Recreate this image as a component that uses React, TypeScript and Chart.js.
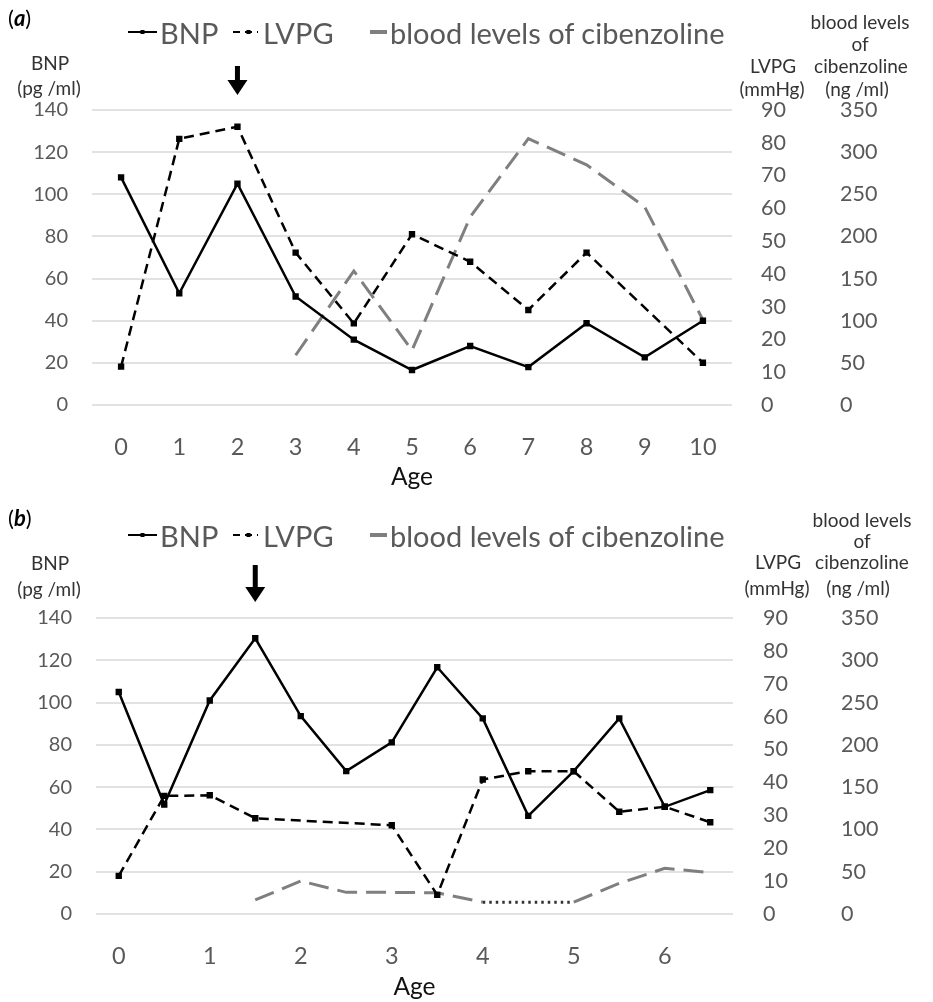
import React, { useEffect, useRef } from "react";
import { Chart, registerables } from "chart.js";
Chart.register(...registerables);

// ---------- Panel (a) data ----------
const agesA = ["0", "1", "2", "3", "4", "5", "6", "7", "8", "9", "10"];
const bnpA = [108, 53, 105, 51.5, 31, 16.6, 28, 18, 38.8, 22.6, 40];
const lvpgA = [11.7, 81.2, 84.9, 46.5, 24.9, 52.1, 43.7, 29, 46.5, null, 12.9];
const cibA = [null, null, null, 59, 159, 65, 223, 316, 285, 235, 101];
const arrowAgeA = "2";

// ---------- Panel (b) data ----------
const agesB = ["0", "0.5", "1", "1.5", "2", "2.5", "3", "3.5", "4", "4.5", "5", "5.5", "6", "6.5"];
const bnpB = [105, 51.8, 101, 130.4, 93.6, 67.6, 81.2, 116.7, 92.5, 46.4, 67.6, 92.5, 50.7, 58.6];
const lvpgB = [11.6, 35.9, 36.1, 29.1, null, null, 27, 5.8, 40.9, 43.4, 43.4, 31.1, 32.6, 27.9];
const cibB = [null, null, null, 16.6, 39, 25.6, 25.6, 25, 14, null, 14, 36.3, 54, 48.9];
const arrowAgeB = "1.5";

// ---------- axis ranges ----------
const bnpRange = [0, 140, 20];
const lvpgRange = [0, 90, 10];
const cibRange = [0, 350, 50];

const seriesNames = ["BNP", "LVPG", "blood levels of cibenzoline"];

const FONT = "Lato, 'Open Sans', sans-serif";
const TICK = "#595959";
const GRAY_LINE = "#7f7f7f";

const arrowPlugin = {
  id: "doseArrow",
  afterDraw(chart: any, _args: any, opts: any) {
    const { ctx, chartArea } = chart;
    const idx = chart.data.labels.indexOf(opts.age);
    if (idx < 0) return;
    const x = chart.scales.x.getPixelForValue(idx);
    const yTop = chartArea.top - opts.from;
    const yTip = chartArea.top - opts.to;
    const yHead = yTip - 15;
    ctx.save();
    ctx.fillStyle = "#000";
    ctx.fillRect(x - 2.5, yTop, 5, yHead - yTop + 1);
    ctx.beginPath();
    ctx.moveTo(x - 10, yHead);
    ctx.lineTo(x + 10, yHead);
    ctx.lineTo(x, yTip);
    ctx.closePath();
    ctx.fill();
    ctx.restore();
  },
};

type PanelCfg = {
  top: number;
  height: number;
  labels: string[];
  bnp: (number | null)[];
  lvpg: (number | null)[];
  cib: (number | null)[];
  arrowAge: string;
  padTop: number;
  leftW: number;
  rightW: number;
  y1Pad: number;
  xHeight: number;
  titleBottom: number;
  arrowFrom: number;
  arrowTo: number;
  halfLabels: boolean;
};

function Panel(p: PanelCfg) {
  const ref = useRef<HTMLCanvasElement>(null);
  useEffect(() => {
    const skipped = (ctx: any, v: any) => (ctx.p0.skip || ctx.p1.skip ? v : undefined);
    const chart = new Chart(ref.current as HTMLCanvasElement, {
      type: "line",
      data: {
        labels: p.labels,
        datasets: [
          {
            label: seriesNames[0],
            data: p.bnp,
            yAxisID: "y",
            borderColor: "#000",
            backgroundColor: "#000",
            borderWidth: 2.5,
            pointStyle: "rect",
            pointRadius: 4.5,
            pointBorderWidth: 0,
            tension: 0,
            spanGaps: true,
          },
          {
            label: seriesNames[1],
            data: p.lvpg,
            yAxisID: "y1",
            borderColor: "#000",
            backgroundColor: "#000",
            borderWidth: 2.5,
            borderDash: [10, 6],
            pointStyle: "rect",
            pointRadius: 4.5,
            pointBorderWidth: 0,
            tension: 0,
            spanGaps: true,
          },
          {
            label: seriesNames[2],
            data: p.cib,
            yAxisID: "y2",
            borderColor: GRAY_LINE,
            backgroundColor: GRAY_LINE,
            borderWidth: 3,
            borderDash: [20, 9],
            pointRadius: 0,
            tension: 0,
            spanGaps: true,
            segment: {
              borderDash: (ctx: any) => skipped(ctx, [2.5, 4]),
              borderColor: (ctx: any) => skipped(ctx, "#333"),
            },
          } as any,
        ],
      },
      options: {
        animation: false,
        responsive: false,
        devicePixelRatio: 1,
        layout: { padding: { top: p.padTop, left: 0, right: 0, bottom: 0 } },
        plugins: {
          legend: { display: false },
          tooltip: { enabled: false },
          doseArrow: { age: p.arrowAge, from: p.arrowFrom, to: p.arrowTo },
        } as any,
        scales: {
          x: {
            type: "category",
            offset: true,
            grid: { display: false },
            border: { display: false },
            ticks: {
              autoSkip: false,
              maxRotation: 0,
              padding: 20,
              color: TICK,
              font: { family: FONT, size: 23.5 },
              callback: function (_v: any, i: number) {
                const l = p.labels[i];
                if (!p.halfLabels) return l;
                return Number.isInteger(Number(l)) ? l : "";
              },
            },
            title: {
              display: true,
              text: "Age",
              color: "#111",
              font: { family: FONT, size: 24.5 },
              padding: { top: 0, bottom: p.titleBottom },
            },
            afterFit: (s: any) => {
              s.height = p.xHeight;
            },
          },
          y: {
            position: "left",
            min: bnpRange[0],
            max: bnpRange[1],
            grid: { color: "#e2e2e2", lineWidth: 2, drawTicks: false },
            border: { display: false },
            ticks: {
              stepSize: bnpRange[2],
              padding: 24,
              color: TICK,
              font: { family: FONT, size: 20 },
            },
            afterFit: (s: any) => {
              s.width = p.leftW;
            },
          },
          y1: {
            position: "right",
            weight: 1,
            min: lvpgRange[0],
            max: lvpgRange[1],
            grid: { display: false },
            border: { display: false },
            ticks: {
              stepSize: lvpgRange[2],
              padding: p.y1Pad,
              color: TICK,
              font: { family: FONT, size: 21.5 },
            },
            afterFit: (s: any) => {
              s.width = 90;
            },
          },
          y2: {
            position: "right",
            weight: 2,
            min: cibRange[0],
            max: cibRange[1],
            grid: { display: false },
            border: { display: false },
            ticks: {
              stepSize: cibRange[2],
              padding: 10,
              color: TICK,
              font: { family: FONT, size: 21.5 },
            },
            afterFit: (s: any) => {
              s.width = p.rightW;
            },
          },
        },
      } as any,
      plugins: [arrowPlugin as any],
    });
    return () => chart.destroy();
  }, []);
  return (
    <canvas
      ref={ref}
      width={933}
      height={p.height}
      style={{ position: "absolute", left: 0, top: p.top, width: 933, height: p.height }}
    />
  );
}

function Txt(props: {
  x: number;
  y: number;
  size: number;
  color?: string;
  align?: "center" | "left";
  children: React.ReactNode;
}) {
  const { x, y, size, color = "#333", align = "center", children } = props;
  return (
    <div
      style={{
        position: "absolute",
        left: x,
        top: y,
        transform: align === "center" ? "translate(-50%,-50%)" : "translate(0,-50%)",
        fontSize: size,
        lineHeight: 1,
        color,
        whiteSpace: "nowrap",
        fontFamily: FONT,
      }}
    >
      {children}
    </div>
  );
}

function Sample(props: { x: number; y: number; w: number; kind: number }) {
  const { x, y, w, kind } = props;
  const h = 10;
  return (
    <svg
      width={w}
      height={h}
      style={{ position: "absolute", left: x, top: y - h / 2 }}
    >
      {kind === 0 && (
        <>
          <line x1={0} y1={5} x2={w} y2={5} stroke="#000" strokeWidth={2} />
          <rect x={w / 2 - 2} y={3} width={4} height={4} fill="#000" />
        </>
      )}
      {kind === 1 && (
        <>
          <line x1={0} y1={5} x2={w} y2={5} stroke="#000" strokeWidth={2} strokeDasharray="7 5" />
          <rect x={w / 2 + 1} y={3} width={4} height={4} fill="#000" />
        </>
      )}
      {kind === 2 && <line x1={0} y1={5} x2={w} y2={5} stroke={GRAY_LINE} strokeWidth={4} />}
    </svg>
  );
}

function Legend({ y }: { y: number }) {
  return (
    <>
      <Sample x={128} y={y} w={29} kind={0} />
      <Txt x={160} y={y} size={29} color={TICK} align="left">
        {seriesNames[0]}
      </Txt>
      <Sample x={233} y={y} w={25} kind={1} />
      <Txt x={263} y={y} size={29} color={TICK} align="left">
        {seriesNames[1]}
      </Txt>
      <Sample x={370} y={y} w={17} kind={2} />
      <Txt x={390} y={y} size={29} color={TICK} align="left">
        {seriesNames[2]}
      </Txt>
    </>
  );
}

function PanelLabel({ y, letter }: { y: number; letter: string }) {
  return (
    <Txt x={8} y={y} size={22} color="#000" align="left">
      (<b>
        <i>{letter}</i>
      </b>
      )
    </Txt>
  );
}

export default function App() {
  return (
    <div
      style={{
        position: "absolute",
        left: 0,
        top: 0,
        width: 933,
        height: 1002,
        background: "#fff",
        overflow: "hidden",
      }}
    >
      {/* Panel (a) */}
      <Panel
        top={0}
        height={496}
        labels={agesA}
        bnp={bnpA}
        lvpg={lvpgA}
        cib={cibA}
        arrowAge={arrowAgeA}
        padTop={110}
        leftW={92}
        rightW={111}
        y1Pad={21}
        xHeight={91}
        titleBottom={4}
        arrowFrom={44}
        arrowTo={15}
        halfLabels={false}
      />
      <PanelLabel y={18} letter="a" />
      <Legend y={32} />
      <Txt x={50} y={62} size={19}>BNP</Txt>
      <Txt x={49} y={87} size={19}>(pg /ml)</Txt>
      <Txt x={773} y={65} size={19}>LVPG</Txt>
      <Txt x={772} y={88} size={19}>(mmHg)</Txt>
      <Txt x={860} y={21} size={19}>blood levels</Txt>
      <Txt x={860} y={43} size={19}>of</Txt>
      <Txt x={861} y={65} size={19}>cibenzoline</Txt>
      <Txt x={857} y={88} size={19}>(ng /ml)</Txt>

      {/* Panel (b) */}
      <Panel
        top={500}
        height={502}
        labels={agesB}
        bnp={bnpB}
        lvpg={lvpgB}
        cib={cibB}
        arrowAge={arrowAgeB}
        padTop={118}
        leftW={96}
        rightW={110}
        y1Pad={22}
        xHeight={88}
        titleBottom={0}
        arrowFrom={53}
        arrowTo={16}
        halfLabels={true}
      />
      <PanelLabel y={518} letter="b" />
      <Legend y={535} />
      <Txt x={50} y={562} size={19}>BNP</Txt>
      <Txt x={49} y={588} size={19}>(pg /ml)</Txt>
      <Txt x={778} y={561} size={19}>LVPG</Txt>
      <Txt x={777} y={587} size={19}>(mmHg)</Txt>
      <Txt x={862} y={519} size={19}>blood levels</Txt>
      <Txt x={862} y={540} size={19}>of</Txt>
      <Txt x={862} y={561} size={19}>cibenzoline</Txt>
      <Txt x={858} y={587} size={19}>(ng /ml)</Txt>
    </div>
  );
}
